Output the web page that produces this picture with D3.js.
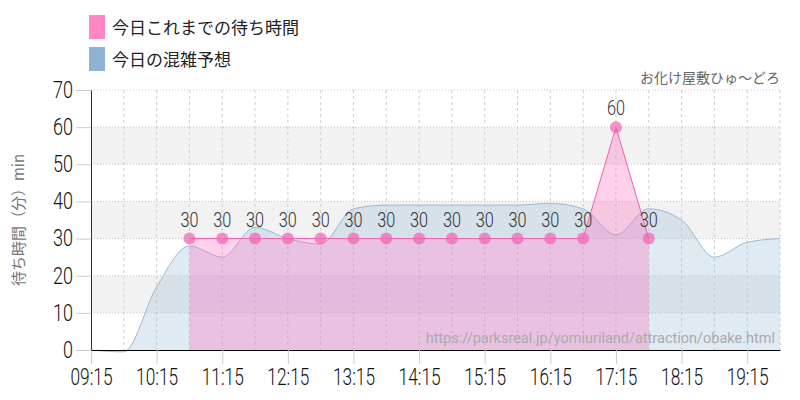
<!DOCTYPE html>
<html><head><meta charset="utf-8">
<script src="https://cdn.jsdelivr.net/npm/d3@7"></script>
<style>
body{margin:0;background:#fff;}
</style></head><body>
<div id="chart"></div>
<script>
// times in minutes since 09:15, every 30 min
var forecastTimes = d3.range(0, 631, 30);
var forecastValues = [0, -0.5, 17, 28, 25, 33, 30, 28.5, 38, 39, 39, 39, 39, 39, 39.5, 38, 31, 38, 35, 25, 29, 30];
var actualTimes = d3.range(90, 511, 30);
var actualValues = [30, 30, 30, 30, 30, 30, 30, 30, 30, 30, 30, 30, 30, 60, 30];
var xTickLabels = ["09:15", "10:15", "11:15", "12:15", "13:15", "14:15", "15:15", "16:15", "17:15", "18:15", "19:15"];
var yTicks = [0, 10, 20, 30, 40, 50, 60, 70];

var svg = d3.select("#chart").append("svg").attr("width", 800).attr("height", 400);
var pLeft = 91, pRight = 780, pTop = 90, pBottom = 350;
var numFont = "Roboto, sans-serif";

var x = d3.scaleLinear().domain([0, 630]).range([pLeft, pRight]);
var y = d3.scaleLinear().domain([0, 70]).range([pBottom, pTop]);

// grey bands
[[10, 20], [30, 40], [50, 60]].forEach(function(b) {
  svg.append("rect").attr("x", pLeft).attr("width", pRight - pLeft)
    .attr("y", y(b[1])).attr("height", y(b[0]) - y(b[1])).attr("fill", "#f2f2f2");
});
// horizontal grid
svg.selectAll(".hg").data(yTicks.slice(1)).enter().append("line")
  .attr("x1", pLeft).attr("x2", pRight).attr("y1", d => y(d)).attr("y2", d => y(d))
  .attr("stroke", "#c8c8c8").attr("stroke-dasharray", "1,2");
// vertical grid
svg.selectAll(".vg").data(d3.range(30, 631, 30)).enter().append("line")
  .attr("x1", d => x(d)).attr("x2", d => x(d)).attr("y1", pTop).attr("y2", pBottom)
  .attr("stroke", "#d0d0d0").attr("stroke-dasharray", "3,3");

// forecast area
var fData = forecastTimes.map((t, i) => [t, forecastValues[i]]);
var area = d3.area().curve(d3.curveMonotoneX).x(d => x(d[0])).y0(y(0)).y1(d => y(d[1]));
svg.append("path").datum(fData).attr("d", area).attr("fill", "rgba(150,185,215,0.3)");
svg.append("path").datum(fData)
  .attr("d", d3.line().curve(d3.curveMonotoneX).x(d => x(d[0])).y(d => y(d[1])))
  .attr("fill", "none").attr("stroke", "#9db8d4").attr("stroke-width", 1);

// actual area
var aData = actualTimes.map((t, i) => [t, actualValues[i]]);
var aArea = d3.area().x(d => x(d[0])).y0(y(0)).y1(d => y(d[1]));
svg.append("path").datum(aData).attr("d", aArea).attr("fill", "rgba(255,110,190,0.32)");
svg.append("path").datum(aData)
  .attr("d", d3.line().x(d => x(d[0])).y(d => y(d[1])))
  .attr("fill", "none").attr("stroke", "#f060b0").attr("stroke-width", 1);
svg.selectAll(".pt").data(aData).enter().append("circle")
  .attr("cx", d => x(d[0])).attr("cy", d => y(d[1])).attr("r", 6)
  .attr("fill", "rgba(240,100,180,0.7)");
svg.selectAll(".pl").data(aData).enter().append("text")
  .attr("x", d => x(d[0])).attr("y", d => y(d[1]) - 12).attr("text-anchor", "middle")
  .attr("font-family", numFont).attr("font-weight", 300).attr("font-size", 21).attr("fill", "#333")
  .attr("textLength", 18).attr("lengthAdjust", "spacingAndGlyphs").text(d => d[1]);

// watermark
svg.append("text").attr("x", 775).attr("y", 343).attr("text-anchor", "end")
  .attr("font-family", "Roboto, sans-serif").attr("font-size", 14.5).attr("fill", "#aaa")
  .text("https://parksreal.jp/yomiuriland/attraction/obake.html");

// axes
var xAxis = svg.append("g").attr("transform", `translate(0,${pBottom})`)
  .call(d3.axisBottom(x).tickValues(d3.range(0, 631, 60)).tickFormat((d, i) => xTickLabels[i]).tickSize(14).tickSizeOuter(0));
xAxis.select(".domain").attr("stroke", "#000");
xAxis.selectAll(".tick line").attr("stroke", "#ccc");
xAxis.selectAll("text").attr("font-family", numFont).attr("font-weight", 300).attr("font-size", 23).attr("fill", "#111")
  .attr("dy", "0.8em").attr("textLength", 42).attr("lengthAdjust", "spacingAndGlyphs");
var yAxis = svg.append("g").attr("transform", `translate(${pLeft},0)`)
  .call(d3.axisLeft(y).tickValues(yTicks).tickSize(15).tickSizeOuter(0));
yAxis.select(".domain").attr("stroke", "#333");
yAxis.selectAll(".tick line").attr("stroke", "#ccc");
yAxis.selectAll("text").attr("font-family", numFont).attr("font-weight", 300).attr("font-size", 23).attr("fill", "#111")
  .attr("x", -18).attr("textLength", d => d === 0 ? 10 : 20).attr("lengthAdjust", "spacingAndGlyphs");

svg.append("text").attr("transform", `translate(24,${(pTop + pBottom) / 2}) rotate(-90)`)
  .attr("text-anchor", "middle").attr("font-family", "'Noto Sans CJK JP', sans-serif")
  .attr("font-size", 15).attr("fill", "#777").text("待ち時間（分）min");

// legend
svg.append("rect").attr("x", 89).attr("y", 15).attr("width", 16).attr("height", 24).attr("fill", "#ff88c4");
svg.append("rect").attr("x", 89).attr("y", 47).attr("width", 16).attr("height", 24).attr("fill", "#8fb3d2");
svg.append("text").attr("x", 112).attr("y", 34).attr("font-family", "'Noto Sans CJK JP', sans-serif")
  .attr("font-size", 17).attr("fill", "#222").text("今日これまでの待ち時間");
svg.append("text").attr("x", 112).attr("y", 66).attr("font-family", "'Noto Sans CJK JP', sans-serif")
  .attr("font-size", 17).attr("fill", "#222").text("今日の混雑予想");
svg.append("text").attr("x", 780).attr("y", 83).attr("text-anchor", "end")
  .attr("font-family", "'Noto Sans CJK JP', sans-serif").attr("font-size", 14).attr("fill", "#666")
  .text("お化け屋敷ひゅ〜どろ");
</script></body></html>
